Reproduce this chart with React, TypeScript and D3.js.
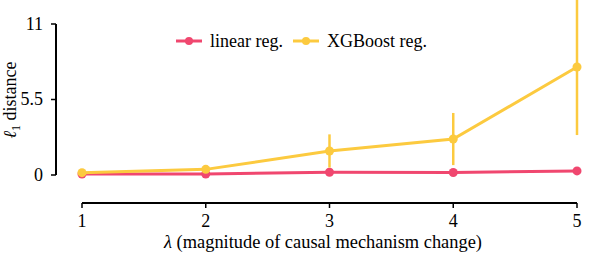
import React from "react";
import * as d3 from "d3";

const lambdas = [1, 2, 3, 4, 5];
const linearVals = [0.07, 0.07, 0.2, 0.18, 0.3];
const linearErr = [0.03, 0.03, 0.05, 0.05, 0.06];
const xgbVals = [0.17, 0.41, 1.75, 2.62, 7.87];
const xgbErr = [0.08, 0.2, 1.21, 1.9, 4.96];
const yTicks = [0, 5.5, 11];

const PINK = "#f0476f";
const YELLOW = "#fcca3f";
const FONT = "Liberation Serif";

const x = d3.scaleLinear().domain([1, 5]).range([82, 577]);
const y = d3.scaleLinear().domain([0, 11]).range([175, 24]);
const X_AXIS_Y = 203;
const Y_AXIS_X = 56;

function Series({ vals, errs, color }: { vals: number[]; errs: number[]; color: string }) {
  const line = d3
    .line<number>()
    .x((_, i) => x(lambdas[i]))
    .y(d => y(d));
  return (
    <g>
      {vals.map((d, i) => (
        <line
          key={"e" + i}
          x1={x(lambdas[i])}
          x2={x(lambdas[i])}
          y1={y(d - errs[i])}
          y2={y(d + errs[i])}
          stroke={color}
          strokeWidth={2.5}
        />
      ))}
      <path d={line(vals) ?? ""} fill="none" stroke={color} strokeWidth={3} />
      {vals.map((d, i) => (
        <circle key={"c" + i} cx={x(lambdas[i])} cy={y(d)} r={4.5} fill={color} />
      ))}
    </g>
  );
}

export default function App() {
  const legend = [
    { label: "linear reg.", color: PINK, x0: 176 },
    { label: "XGBoost reg.", color: YELLOW, x0: 293 },
  ];
  return (
    <svg
      width={600}
      height={260}
      fontFamily={FONT}
      fontSize={18}
      style={{ position: "absolute", left: 0, top: 0, background: "#fff" }}
    >
      {/* x axis */}
      <g transform={`translate(0,${X_AXIS_Y})`}>
        <line x1={x(1)} x2={x(5)} y1={0} y2={0} stroke="#000" strokeWidth={2} />
        {lambdas.map(t => (
          <g key={t} transform={`translate(${x(t)},0)`}>
            <line y1={0} y2={5} stroke="#000" strokeWidth={1.5} />
            <text y={24} textAnchor="middle">{t}</text>
          </g>
        ))}
      </g>
      {/* y axis */}
      <g transform={`translate(${Y_AXIS_X},0)`}>
        <line x1={0} x2={0} y1={y(0)} y2={y(11)} stroke="#000" strokeWidth={2} />
        {yTicks.map(t => (
          <g key={t} transform={`translate(0,${y(t)})`}>
            <line x1={-5} x2={0} stroke="#000" strokeWidth={1.5} />
            <text x={-13} dy="0.32em" textAnchor="end">{t}</text>
          </g>
        ))}
      </g>

      <Series vals={linearVals} errs={linearErr} color={PINK} />
      <Series vals={xgbVals} errs={xgbErr} color={YELLOW} />

      {/* legend */}
      {legend.map(l => (
        <g key={l.label}>
          <line x1={l.x0} x2={l.x0 + 26} y1={41} y2={41} stroke={l.color} strokeWidth={3} />
          <circle cx={l.x0 + 13} cy={41} r={4} fill={l.color} />
          <text x={l.x0 + 34} y={47}>{l.label}</text>
        </g>
      ))}

      {/* axis labels */}
      <text x={323} y={248} textAnchor="middle" fontSize={18.4}>
        <tspan fontStyle="italic">λ</tspan>
        <tspan> (magnitude of causal mechanism change)</tspan>
      </text>
      <text transform="translate(16,100) rotate(-90)" textAnchor="middle">
        <tspan fontStyle="italic">ℓ</tspan>
        <tspan fontSize={12} dy={4}>1</tspan>
        <tspan dy={-4}> distance</tspan>
      </text>
    </svg>
  );
}
